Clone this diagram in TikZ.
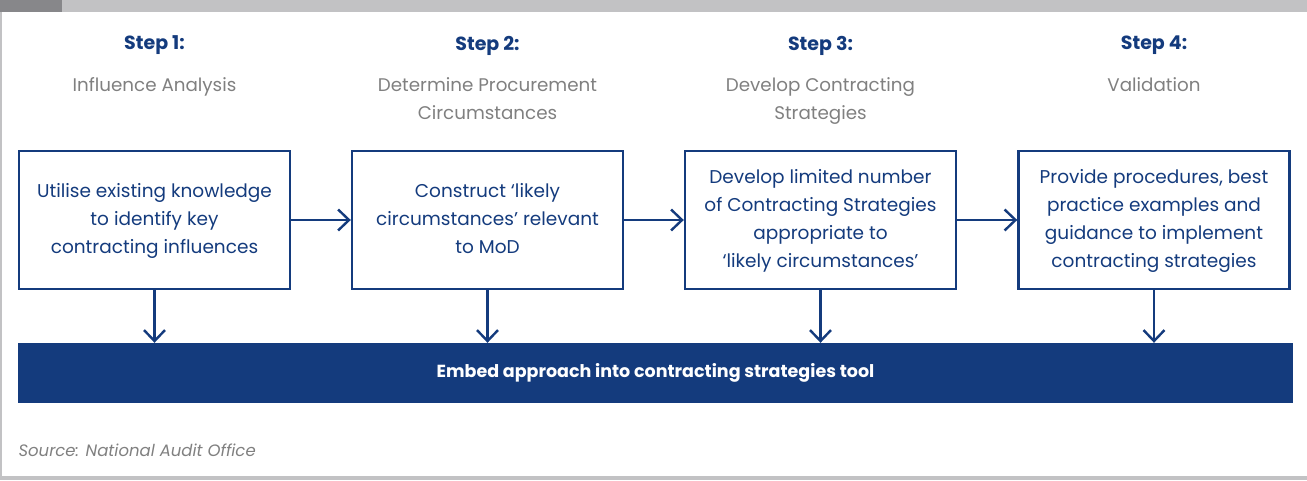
\documentclass[tikz,border=0pt]{standalone}
\usepackage{fontspec}
\setmainfont{Poppins}
\usetikzlibrary{arrows.meta}

\definecolor{navy}{rgb}{0.08, 0.23, 0.49}
\definecolor{lightgrey}{rgb}{0.76, 0.76, 0.77}
\definecolor{darkgrey}{rgb}{0.53, 0.53, 0.54}
\definecolor{textgrey}{rgb}{0.50, 0.50, 0.50}

\tikzset{
  stepbox/.style={draw=navy, line width=2.4pt, minimum width=271pt, minimum height=138pt, align=center, inner sep=0pt, font=\fontsize{18.5}{28}\selectfont, text=navy},
  steplabel/.style={font=\fontsize{19}{22}\selectfont\bfseries, text=navy},
  stepname/.style={font=\fontsize{18.3}{28}\selectfont, text=textgrey, align=center, anchor=north},
  link/.style={draw=navy, line width=2.4pt, -{Straight Barb[length=11pt, width=21pt, line width=2.4pt]}}
}

\begin{document}
\begin{tikzpicture}[x=1pt,y=1pt,yscale=-1,xscale=1]
		% Set diagram area
		\useasboundingbox (0,0) rectangle (1307,480);

		% Frame: grey bar on top, darker corner, thin line left and bottom
		\fill[lightgrey] (0,0) rectangle (1307,12);
		\fill[darkgrey] (0,0) rectangle (62,12);
		\fill[lightgrey] (0,12) rectangle (2,480);
		\fill[lightgrey] (0,476) rectangle (1307,480);

		% Step headings
		\node[steplabel] (h1) at (154.5,45.5) {Step 1:};
		\node[steplabel] (h2) at (487.5,45.5) {Step 2:};
		\node[steplabel] (h3) at (820.5,45.5) {Step 3:};
		\node[steplabel] (h4) at (1154,45.5) {Step 4:};

		% Step names in grey
		\node[stepname] (n1) at (154.5,74) {Influence Analysis};
		\node[stepname] (n2) at (487.5,74) {Determine Procurement\\Circumstances};
		\node[stepname] (n3) at (820.5,74) {Develop Contracting\\Strategies};
		\node[stepname] (n4) at (1154,74) {Validation};

		% The four boxes
		\node[stepbox] (b1) at (154.5,220) {\raisebox{-3pt}{\begin{tabular}{@{}c@{}}Utilise existing knowledge\\to identify key\\contracting influences\end{tabular}}};
		\node[stepbox] (b2) at (487.5,220) {\raisebox{-3pt}{\begin{tabular}{@{}c@{}}Construct `likely\\circumstances' relevant\\to MoD\end{tabular}}};
		\node[stepbox] (b3) at (820.5,220) {\raisebox{-3pt}{\begin{tabular}{@{}c@{}}Develop limited number\\of Contracting Strategies\\appropriate to\\`likely circumstances'\end{tabular}}};
		\node[stepbox] (b4) at (1154,220) {\raisebox{-3pt}{\begin{tabular}{@{}c@{}}Provide procedures, best\\practice examples and\\guidance to implement\\contracting strategies\end{tabular}}};

		% The bar at the bottom
		\node[fill=navy, minimum width=1275pt, minimum height=60pt, inner sep=0pt, text=white, font=\fontsize{17.5}{20}\selectfont\bfseries] (bar) at (655.5,373) {Embed approach into contracting strategies tool};

		% Arrows between the boxes
		\draw[link] (b1) -- (b2);
		\draw[link] (b2) -- (b3);
		\draw[link] (b3) -- (b4);

		% Arrows down into the bar
		\draw[link] (b1.south) -- (b1.south |- bar.north);
		\draw[link] (b2.south) -- (b2.south |- bar.north);
		\draw[link] (b3.south) -- (b3.south |- bar.north);
		\draw[link] (b4.south) -- (b4.south |- bar.north);

		% Source line
		\node[anchor=west, text=textgrey, font=\fontsize{16.5}{18}\selectfont\itshape] (src) at (15,450) {Source: National Audit Office};
	\end{tikzpicture}
\end{document}
